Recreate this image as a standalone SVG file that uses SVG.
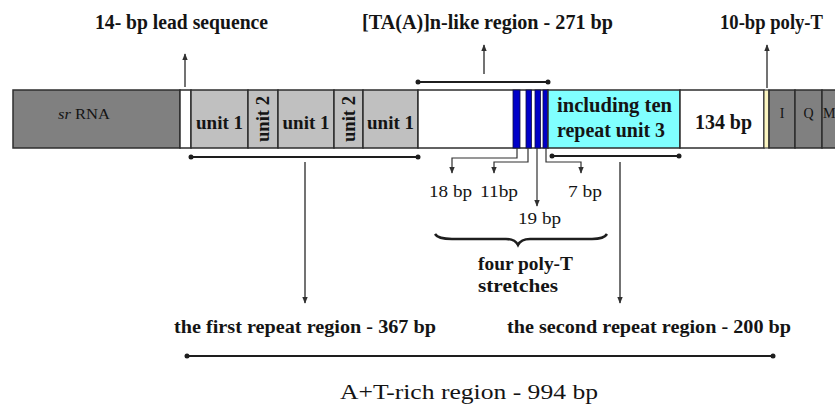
<svg xmlns="http://www.w3.org/2000/svg" width="835" height="404" viewBox="0 0 835 404">
<style>
text{font-family:"Liberation Serif","Times New Roman",serif;fill:#141414}
.b{font-weight:bold}
.seg{stroke:#2e2e2e;stroke-width:1.5}
.dk{fill:#808080}
.lt{fill:#c0c0c0}
.wh{fill:#ffffff}
.bl{fill:#0000c8;stroke:#101040;stroke-width:0.8}
.cy{fill:#80ffff}
.arr{stroke:#505050;stroke-width:1.6;fill:none}
.thin{stroke:#303030;stroke-width:1.2;fill:none}
.brk{stroke:#1e1e1e;stroke-width:2;fill:none}
.dot{fill:#1e1e1e}
</style>
<defs>
<marker id="ah" viewBox="0 0 10 10" refX="9" refY="5" markerWidth="7" markerHeight="7" orient="auto" markerUnits="userSpaceOnUse">
<path d="M0,1 L10,5 L0,9 z" fill="#303030"/>
</marker>
</defs>
<rect width="835" height="404" fill="#ffffff"/>

<g id="bar">
<g id="srRNA"><rect class="seg dk" x="13" y="90" width="167" height="58"/>
<text x="84" y="119" font-size="15" text-anchor="middle" textLength="52" lengthAdjust="spacingAndGlyphs"><tspan font-style="italic">sr</tspan> RNA</text></g>
<g id="lead"><rect class="seg wh" x="180" y="90" width="11" height="58"/></g>
<g id="u1a"><rect class="seg lt" x="191" y="90" width="57" height="58"/>
<text class="b" x="219.5" y="129" font-size="19" text-anchor="middle" textLength="47" lengthAdjust="spacingAndGlyphs">unit 1</text></g>
<g id="u2a"><rect class="seg lt" x="248" y="90" width="30" height="58"/>
<text class="b" font-size="18" text-anchor="middle" transform="translate(269,119) rotate(-90)" textLength="46" lengthAdjust="spacingAndGlyphs">unit 2</text></g>
<g id="u1b"><rect class="seg lt" x="278" y="90" width="56" height="58"/>
<text class="b" x="306" y="129" font-size="19" text-anchor="middle" textLength="47" lengthAdjust="spacingAndGlyphs">unit 1</text></g>
<g id="u2b"><rect class="seg lt" x="334" y="90" width="29" height="58"/>
<text class="b" font-size="18" text-anchor="middle" transform="translate(354.5,119) rotate(-90)" textLength="46" lengthAdjust="spacingAndGlyphs">unit 2</text></g>
<g id="u1c"><rect class="seg lt" x="363" y="90" width="55" height="58"/>
<text class="b" x="390.5" y="129" font-size="19" text-anchor="middle" textLength="47" lengthAdjust="spacingAndGlyphs">unit 1</text></g>
<g id="taRegion"><rect class="seg wh" x="418" y="90" width="130" height="58"/>
<rect class="bl" x="513" y="90" width="7" height="58"/>
<rect class="bl" x="526" y="90" width="5.5" height="58"/>
<rect class="bl" x="535" y="90" width="5.5" height="58"/>
<rect class="bl" x="543" y="90" width="5" height="58"/></g>
<g id="repeat3"><rect class="seg cy" x="548" y="90" width="132" height="58"/>
<text class="b" x="557" y="112" font-size="20" textLength="115" lengthAdjust="spacingAndGlyphs">including ten</text>
<text class="b" x="557" y="137" font-size="20" textLength="108" lengthAdjust="spacingAndGlyphs">repeat unit 3</text></g>
<g id="bp134"><rect class="seg wh" x="680" y="90" width="84" height="58"/>
<text class="b" x="695" y="129" font-size="20" textLength="57" lengthAdjust="spacingAndGlyphs">134 bp</text></g>
<g id="polyT"><rect x="764" y="90" width="5" height="58" fill="#fbf5c0" stroke="#2e2e2e" stroke-width="1"/></g>
<g id="tI"><rect class="seg dk" x="769" y="90" width="26" height="58"/>
<text x="782" y="118" font-size="14" text-anchor="middle">I</text></g>
<g id="tQ"><rect class="seg dk" x="795" y="90" width="27" height="58"/>
<text x="808.5" y="118" font-size="14" text-anchor="middle">Q</text></g>
<g id="tM"><rect class="seg dk" x="822" y="90" width="20" height="58"/>
<text x="823" y="118" font-size="14">M</text></g>
</g>

<g id="labels">
<text class="b" x="95" y="29" font-size="20" textLength="173" lengthAdjust="spacingAndGlyphs">14- bp lead sequence</text>
<text class="b" x="362" y="29" font-size="20" textLength="251" lengthAdjust="spacingAndGlyphs">[TA(A)]n-like region - 271 bp</text>
<text class="b" x="720" y="29" font-size="20" textLength="103" lengthAdjust="spacingAndGlyphs">10-bp poly-T</text>
<text x="429" y="197" font-size="17" textLength="43" lengthAdjust="spacingAndGlyphs">18 bp</text>
<text x="480" y="197" font-size="17" textLength="38" lengthAdjust="spacingAndGlyphs">11bp</text>
<text x="568" y="197" font-size="17" textLength="34" lengthAdjust="spacingAndGlyphs">7 bp</text>
<text x="518" y="224" font-size="17" textLength="43" lengthAdjust="spacingAndGlyphs">19 bp</text>
<text class="b" x="478" y="270" font-size="18" textLength="95" lengthAdjust="spacingAndGlyphs">four poly-T</text>
<text class="b" x="478" y="292" font-size="18" textLength="80" lengthAdjust="spacingAndGlyphs">stretches</text>
<text class="b" x="174" y="333" font-size="18" textLength="262" lengthAdjust="spacingAndGlyphs">the first repeat region - 367 bp</text>
<text class="b" x="507" y="333" font-size="18" textLength="284" lengthAdjust="spacingAndGlyphs">the second repeat region - 200 bp</text>
<text x="340" y="399" font-size="22" textLength="258" lengthAdjust="spacingAndGlyphs">A+T-rich region - 994 bp</text>
</g>

<g id="connectors">
<line class="arr" x1="185" y1="87" x2="185" y2="54" marker-end="url(#ah)"/>
<line class="arr" x1="484" y1="74" x2="484" y2="45" marker-end="url(#ah)"/>
<line class="arr" x1="767" y1="88" x2="767" y2="45" marker-end="url(#ah)"/>
<line class="brk" x1="418" y1="82" x2="548" y2="82"/>
<circle class="dot" cx="418" cy="82" r="2.5"/><circle class="dot" cx="548" cy="82" r="2.5"/>
<line class="brk" x1="191" y1="157" x2="418" y2="157"/>
<circle class="dot" cx="191" cy="157" r="2.5"/><circle class="dot" cx="418" cy="157" r="2.5"/>
<line class="brk" x1="552" y1="156" x2="679" y2="156"/>
<circle class="dot" cx="552" cy="156" r="2.5"/><circle class="dot" cx="679" cy="156" r="2.5"/>
<line class="arr" x1="305" y1="162" x2="305" y2="303" marker-end="url(#ah)"/>
<line class="arr" x1="620" y1="162" x2="620" y2="303" marker-end="url(#ah)"/>
<path class="thin" d="M517,148 V158 H452 V173" marker-end="url(#ah)"/>
<path class="thin" d="M528,148 V162 H494 V173" marker-end="url(#ah)"/>
<path class="thin" d="M537,148 V206" marker-end="url(#ah)"/>
<path class="thin" d="M546,148 V162 H581 V173" marker-end="url(#ah)"/>
<path d="M435,234 Q438,239 452,239 H506 Q515,239 518,245 Q521,239 530,239 H592 Q604,239 607,234" fill="none" stroke="#1e1e1e" stroke-width="2.5"/>
<line class="brk" x1="187" y1="356" x2="773" y2="356"/>
<circle class="dot" cx="187" cy="356" r="2.5"/><circle class="dot" cx="773" cy="356" r="2.5"/>
</g>
</svg>
